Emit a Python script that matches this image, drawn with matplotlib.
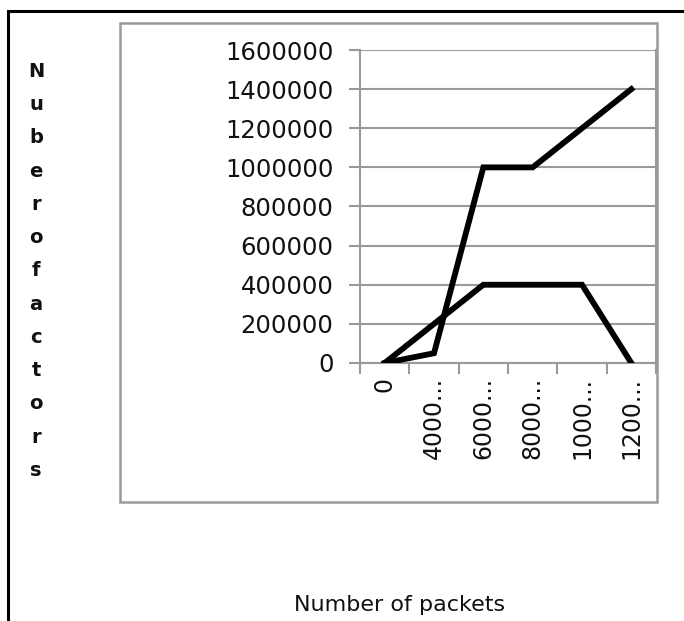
import matplotlib
matplotlib.use("Agg")
import matplotlib.pyplot as plt
from matplotlib.patches import Rectangle

# packet counts (labels are cut short on the axis)
categories = ["0", "4000...", "6000...", "8000...", "1000...", "1200..."]
series_a = [0, 50000, 1000000, 1000000, 1200000, 1400000]
series_b = [0, 200000, 400000, 400000, 400000, 0]
y_ticks = [0, 200000, 400000, 600000, 800000, 1000000, 1200000, 1400000, 1600000]
y_title = "Nuberofactors"
x_title = "Number of packets"

W, H = 684, 621
fig = plt.figure(figsize=(W / 100, H / 100), dpi=100)
fig.patch.set_facecolor("white")

def fx(px):
    return px / W

def fy(py):
    return 1 - py / H

# outer black frame (runs off the right and bottom edges)
fig.patches.append(Rectangle((fx(8), fy(700)), fx(720), fy(11) - fy(700),
                             transform=fig.transFigure, fill=False,
                             edgecolor="black", linewidth=2.2, zorder=0))
# grey chart box
fig.patches.append(Rectangle((fx(120), fy(502)), fx(657) - fx(120), fy(23) - fy(502),
                             transform=fig.transFigure, fill=False,
                             edgecolor="#9a9a9a", linewidth=1.8, zorder=0))

ax = fig.add_axes([fx(360), fy(363), fx(656) - fx(360), fy(50) - fy(363)])
ax.set_facecolor("none")

x = list(range(len(categories)))
ax.plot(x, series_a, color="black", linewidth=4.2, solid_joinstyle="miter", zorder=3)
ax.plot(x, series_b, color="black", linewidth=4.2, solid_joinstyle="miter", zorder=3)

ax.set_xlim(-0.5, len(categories) - 0.5)
ax.set_ylim(0, 1600000)
ax.set_yticks(y_ticks)
ax.set_yticklabels([str(v) for v in y_ticks])
ax.yaxis.grid(True, color="#9a9a9a", linewidth=1.5)
ax.set_axisbelow(True)

# category ticks sit on the boundaries, labels at the centres
ax.set_xticks([i - 0.5 for i in range(len(categories) + 1)])
ax.set_xticklabels([""] * (len(categories) + 1))
ax.set_xticks(x, minor=True)
ax.set_xticklabels(categories, minor=True, rotation=90, va="top", ha="center",
                   fontsize=17, color="#111111")
ax.tick_params(axis="x", which="minor", length=0, pad=10)
ax.tick_params(axis="x", which="major", length=8, width=1.5, color="#9a9a9a")
ax.tick_params(axis="y", length=8, width=1.5, color="#9a9a9a", pad=11,
               labelsize=17.5, labelcolor="#111111")

for side in ["left", "bottom", "right"]:
    ax.spines[side].set_color("#9a9a9a")
    ax.spines[side].set_linewidth(1.5)
ax.spines["top"].set_visible(False)

fig.text(fx(36), fy(271), "\n".join(y_title), ha="center", va="center",
         fontsize=14, linespacing=1.95, color="#111111", fontweight="semibold")
fig.text(fx(400), fy(605), x_title, ha="center", va="center",
         fontsize=16, color="#111111")

fig.savefig("out.png", dpi=100)
